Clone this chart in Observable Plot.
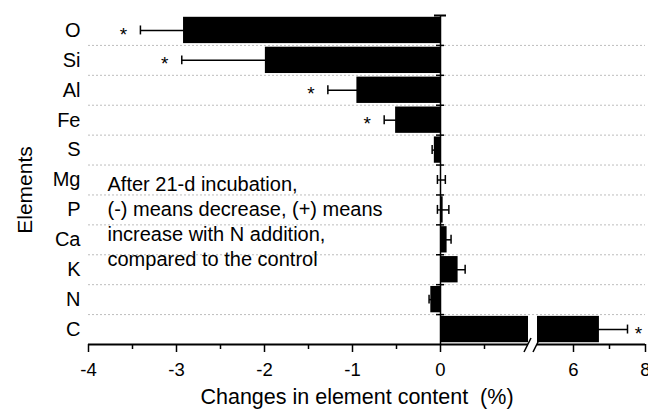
<!DOCTYPE html>
<html><head><meta charset="utf-8">
<script src="https://cdn.jsdelivr.net/npm/d3@7"></script>
<script src="https://cdn.jsdelivr.net/npm/@observablehq/plot@0.6"></script>
<style>body{margin:0;background:#fff} svg{display:block}</style>
</head><body><div id="chart"></div>
<script>
const elements = ["O", "Si", "Al", "Fe", "S", "Mg", "P", "Ca", "K", "N", "C"];
const change = [-2.92, -1.99, -0.95, -0.51, -0.07, 0.01, 0.03, 0.075, 0.2, -0.11, 6.72];
const errors = [0.49, 0.95, 0.33, 0.13, 0.025, 0.045, 0.065, 0.045, 0.08, 0.02, 0.78];
const significance = ["*", "*", "*", "*", "", "", "", "", "", "", "*"];
const majorTicks = [-4, -3, -2, -1, 0, 6, 8];
const minorTicks = [-3.5, -2.5, -1.5, -0.5, 0.5, 7];
const axisBreak = [1, 5];
const note = ["After 21-d incubation,", "(-) means decrease, (+) means", "increase with N addition,", "compared to the control"];

const rows = elements.map((element, i) => ({element, i, value: change[i], err: errors[i], sig: significance[i]}));
const [breakLo, breakHi] = axisBreak;
const n = elements.length;

const slashes = (index, scales) => {
  const g = d3.create("svg:g").attr("stroke", "black").attr("stroke-width", 1.5);
  const y0 = scales.y(n);
  for (const b of axisBreak) {
    const px = scales.x(b);
    g.append("line").attr("x1", px - 4).attr("y1", y0 + 8).attr("x2", px + 3).attr("y2", y0 - 6);
  }
  return g.node();
};

const chart = Plot.plot({
  width: 648,
  height: 411,
  marginLeft: 88,
  marginRight: 3,
  marginTop: 15,
  marginBottom: 67,
  style: {fontFamily: "'Liberation Sans', Arial, sans-serif", color: "black", background: "white"},
  x: {type: "linear", domain: [-4, breakLo, breakHi, 8], range: [88, 528, 537, 645]},
  y: {type: "linear", domain: [0, n], range: [15, 344]},
  marks: [
    Plot.ruleY(d3.range(1, n), {y: d => d, stroke: "#bdbdbd", strokeDasharray: "2,2", strokeWidth: 1}),
    Plot.link(rows, {x1: d => d.value - d.err, x2: d => d.value + d.err, y1: d => d.i + 0.5, y2: d => d.i + 0.5, stroke: "black", strokeWidth: 1.5}),
    Plot.ruleX(rows.flatMap(d => [{x: d.value - d.err, i: d.i}, {x: d.value + d.err, i: d.i}]), {x: "x", y1: d => d.i + 0.35, y2: d => d.i + 0.65, stroke: "black", strokeWidth: 1.5}),
    Plot.rectX(rows, {x1: () => 0, x2: d => Math.min(d.value, breakLo), y1: d => d.i + 0.06, y2: d => d.i + 0.94, fill: "black"}),
    Plot.rectX(rows.filter(d => d.value > breakHi), {x1: () => breakHi, x2: d => d.value, y1: d => d.i + 0.06, y2: d => d.i + 0.94, fill: "black"}),
    Plot.ruleX([0], {y1: () => 0, y2: () => n, stroke: "black", strokeWidth: 1.5}),
    Plot.ruleY(d3.range(1, n), {y: d => d, x1: () => 0, x2: () => 0, insetLeft: -4, insetRight: -4, stroke: "black", strokeWidth: 1.5}),
    Plot.ruleY([0], {y: d => d, x1: () => 0, x2: () => 0, insetLeft: -6, insetRight: -6, stroke: "black", strokeWidth: 2}),
    Plot.ruleY([[-4, breakLo], [breakHi, 8]], {y: () => n, x1: d => d[0], x2: d => d[1], stroke: "black", strokeWidth: 2}),
    Plot.axisX({ticks: majorTicks, tickSize: 8, tickPadding: 10, fontSize: 18.5, strokeWidth: 1.5, label: null, tickFormat: d => String(d)}),
    Plot.axisX({ticks: minorTicks, tickSize: 5, strokeWidth: 1.5, label: null, tickFormat: () => ""}),
    slashes,
    Plot.axisY({ticks: elements.map((_, i) => i + 0.5), tickFormat: d => elements[Math.floor(d)], tickSize: 0, tickPadding: 8, fontSize: 20, label: null}),
    Plot.text(rows.filter(d => d.sig && d.value < 0), {x: d => d.value - d.err, y: d => d.i + 0.5, text: "sig", dx: -17, dy: 4, fontSize: 19}),
    Plot.text(rows.filter(d => d.sig && d.value > 0), {x: d => d.value + d.err, y: d => d.i + 0.5, text: "sig", dx: 11, dy: 4, fontSize: 19}),
    Plot.text([note.join("\n")], {text: d => d, frameAnchor: "top-left", textAnchor: "start", lineAnchor: "top", lineHeight: 1.24, dx: 19, dy: 158, fontSize: 20}),
    Plot.text(["Elements"], {text: d => d, frameAnchor: "left", textAnchor: "middle", rotate: -90, dx: -63, dy: 10, fontSize: 21}),
    Plot.text(["Changes in element content\u00a0\u00a0(%)"], {text: d => d, frameAnchor: "bottom", dx: -10, dy: 59, fontSize: 21.5})
  ]
});
document.getElementById("chart").append(chart);
</script>
</body></html>
